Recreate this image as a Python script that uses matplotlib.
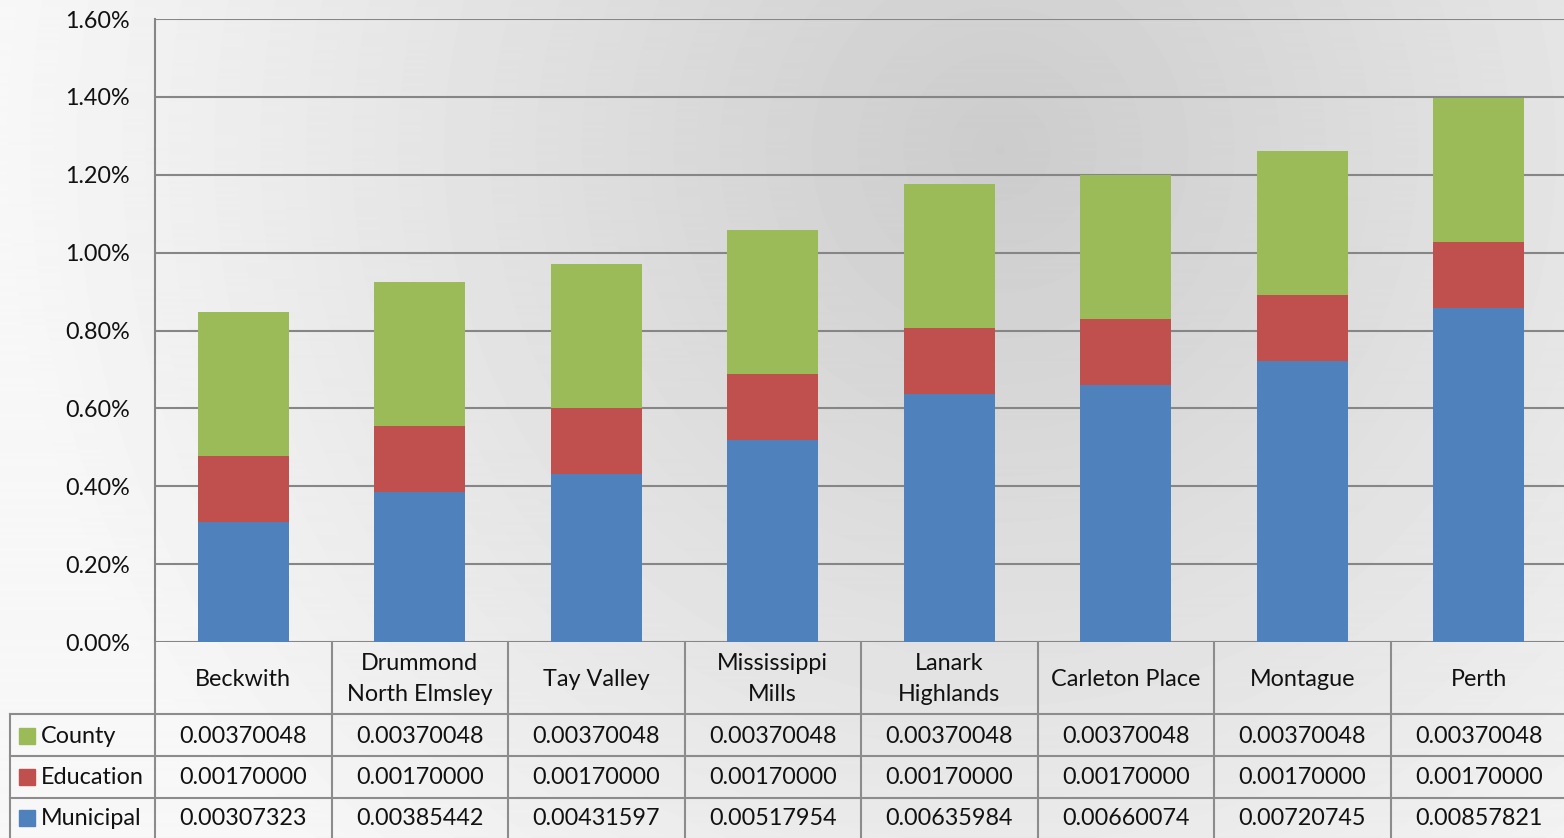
import numpy as np
import matplotlib
matplotlib.use("Agg")
import matplotlib.pyplot as plt
from matplotlib.ticker import FuncFormatter
from matplotlib.transforms import blended_transform_factory

plt.rcParams['font.family'] = ['Lato', 'DejaVu Sans']

towns = ["Beckwith", "Drummond\nNorth Elmsley", "Tay Valley", "Mississippi\nMills",
         "Lanark\nHighlands", "Carleton Place", "Montague", "Perth"]
municipal = [0.00307323, 0.00385442, 0.00431597, 0.00517954,
             0.00635984, 0.00660074, 0.00720745, 0.00857821]
education = [0.00170000] * 8
county = [0.00370048] * 8

series = ["County", "Education", "Municipal"]
colors = {"County": "#9BBB59", "Education": "#C0504D", "Municipal": "#4F81BD"}
values = {"County": county, "Education": education, "Municipal": municipal}

W, H = 1564, 838
fig = plt.figure(figsize=(W / 100, H / 100), dpi=100)

# background gradient (excel style)
bg = fig.add_axes([0, 0, 1, 1], zorder=-10)
yy, xx = np.mgrid[0:H, 0:W]
d = np.sqrt((xx - 1000) ** 2 + (yy - 150) ** 2)
shade = 0.80 + 0.17 * np.clip(d / 1000, 0, 1)
bg.imshow(shade, cmap="gray", vmin=0, vmax=1, extent=[0, W, H, 0], aspect="auto")
bg.axis("off")

# overlay in pixel coords for the table
ov = fig.add_axes([0, 0, 1, 1], zorder=5)
ov.set_xlim(0, W)
ov.set_ylim(H, 0)
ov.axis("off")
ov.patch.set_alpha(0)

ax = fig.add_axes([155 / W, (H - 642) / H, 1412 / W, 623 / H], zorder=2)
ax.patch.set_alpha(0)
x = np.arange(len(towns))
bw = 0.515
ax.bar(x, municipal, bw, color=colors["Municipal"], zorder=3)
ax.bar(x, education, bw, bottom=municipal, color=colors["Education"], zorder=3)
ax.bar(x, county, bw, bottom=np.array(municipal) + np.array(education),
       color=colors["County"], zorder=3)
ax.set_xlim(-0.5, 7.5)
ax.set_ylim(0, 0.016)
ax.set_yticks(np.arange(0, 0.0161, 0.002))
ax.yaxis.set_major_formatter(FuncFormatter(lambda v, p: f"{v * 100:.2f}%"))
ax.yaxis.grid(True, color="#868686", linewidth=1.5, zorder=0)
ax.set_xticks([])
ax.tick_params(axis="y", length=0, pad=18, labelsize=16.8, labelcolor="#111111")
for s in ["top", "right", "bottom"]:
    ax.spines[s].set_visible(False)
ax.spines["left"].set_color("#868686")
ax.spines["left"].set_linewidth(1.5)

trans = blended_transform_factory(ax.transData, ov.transData)
lc = "#8c8c8c"
lw = 1.5
fs = 16.8

# table grid
for k in range(len(towns) + 1):
    ov.plot([k - 0.5, k - 0.5], [642, H], color=lc, lw=lw, transform=trans, clip_on=False)
ov.plot([10, 10], [714, H], color=lc, lw=lw, clip_on=False)
for yl in [714, 756, 798]:
    ov.plot([10, W], [yl, yl], color=lc, lw=lw, clip_on=False)

# header row
for i, t in enumerate(towns):
    ov.text(i, 679, t, transform=trans, ha="center", va="center", fontsize=fs,
            color="#111111", linespacing=1.55)

# data rows
row_y = [736, 777, 818]
for r, name in enumerate(series):
    yc = row_y[r]
    ov.add_patch(plt.Rectangle((19, yc - 8), 16, 16, color=colors[name]))
    ov.text(41, yc, name, ha="left", va="center", fontsize=fs, color="#111111")
    for i, v in enumerate(values[name]):
        ov.text(i, yc, f"{v:.8f}", transform=trans, ha="center", va="center",
                fontsize=fs, color="#111111")

fig.savefig("out.png", dpi=100)
